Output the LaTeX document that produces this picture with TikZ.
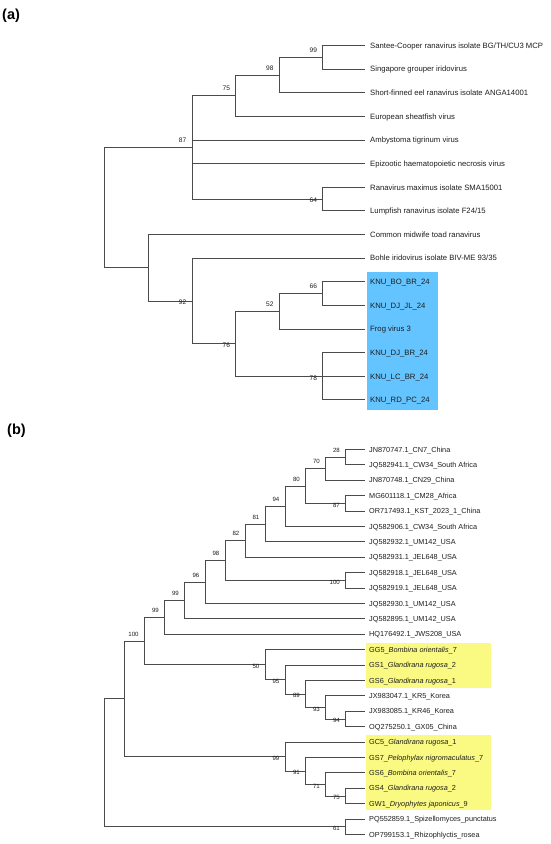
\documentclass[tikz,border=0pt]{standalone}
\usepackage{fontspec}
\setmainfont{Liberation Sans}
\usetikzlibrary{calc}
\definecolor{hlblue}{RGB}{100,196,255}
\definecolor{hlyellow}{RGB}{250,250,130}
\definecolor{brc}{RGB}{75,75,75}
\definecolor{txc}{RGB}{30,30,30}
\newcommand{\tclade}[4]{%
  \path let \p1=($(#3)!0.5!(#4)$) in coordinate (#1) at (#2pt,\y1);
  \draw[branch] (#3) -- (#3 -| #1) -- (#4 -| #1) -- (#4);
}
\begin{document}
\begin{tikzpicture}[x=1pt,y=-1pt,
  branch/.style={draw=brc, line width=0.95pt, line join=miter},
  leafa/.style={anchor=west, inner xsep=5pt, inner ysep=0pt, text height=5.5pt, text depth=0pt, font=\fontsize{7.7}{8}\selectfont, text=txc},
  leafb/.style={anchor=west, inner xsep=4pt, inner ysep=0pt, text height=5.2pt, text depth=0pt, font=\fontsize{7.3}{8}\selectfont, text=txc},
  bsa/.style={anchor=east, inner sep=0pt, xshift=-5.5pt, yshift=7.3pt, font=\fontsize{6.6}{7}\selectfont, text=txc},
  bsab/.style={bsa, yshift=-8.8pt},
  bsb/.style={anchor=east, inner sep=0pt, xshift=-5.5pt, yshift=7pt, font=\fontsize{6.1}{7}\selectfont, text=txc},
  bsbb/.style={bsb, yshift=-8.5pt},
  panel/.style={anchor=west, inner sep=0pt, font=\bfseries\fontsize{14.5}{16}\selectfont, text=black}
]
\useasboundingbox (0,0) rectangle (550,844);
\fill[white] (0,0) rectangle (550,844);

% panel labels
\node[panel] (pa) at (2,16) {(a)};
\node[panel] (pb) at (7,431) {(b)};

% highlights
\fill[hlblue] (366.5,271.8) rectangle (438.4,409.5);
\fill[hlyellow] (365.5,642.7) rectangle (490.5,688);
\fill[hlyellow] (365.5,735.1) rectangle (490.5,810.2);

% ---------- tree (a) leaves ----------
\node[leafa] (A1) at (365,45.5) {Santee-Cooper ranavirus isolate BG/TH/CU3 MCP};
\node[leafa] (A2) at (365,69.13) {Singapore grouper iridovirus};
\node[leafa] (A3) at (365,92.76) {Short-finned eel ranavirus isolate ANGA14001};
\node[leafa] (A4) at (365,116.39) {European sheatfish virus};
\node[leafa] (A5) at (365,140.02) {Ambystoma tigrinum virus};
\node[leafa] (A6) at (365,163.65) {Epizootic haematopoietic necrosis virus};
\node[leafa] (A7) at (365,187.28) {Ranavirus maximus isolate SMA15001};
\node[leafa] (A8) at (365,210.91) {Lumpfish ranavirus isolate F24/15};
\node[leafa] (A9) at (365,234.54) {Common midwife toad ranavirus};
\node[leafa] (A10) at (365,258.17) {Bohle iridovirus isolate BIV-ME 93/35};
\node[leafa] (A11) at (365,281.8) {KNU\_BO\_BR\_24};
\node[leafa] (A12) at (365,305.43) {KNU\_DJ\_JL\_24};
\node[leafa] (A13) at (365,329.06) {Frog virus 3};
\node[leafa] (A14) at (365,352.69) {KNU\_DJ\_BR\_24};
\node[leafa] (A15) at (365,376.32) {KNU\_LC\_BR\_24};
\node[leafa] (A16) at (365,399.95) {KNU\_RD\_PC\_24};

% ---------- tree (a) branches ----------
\tclade{aN99}{322.7}{A1.west}{A2.west}
\tclade{aN98}{279.2}{aN99}{A3.west}
\tclade{aN75}{235.7}{aN98}{A4.west}
\tclade{aN64}{322.7}{A7.west}{A8.west}
\tclade{aN87}{192}{aN75}{aN64}
\draw[branch] (A5.west -| aN87) -- (A5.west);
\draw[branch] (A6.west -| aN87) -- (A6.west);
\tclade{aN66}{322.7}{A11.west}{A12.west}
\tclade{aN52}{279.2}{aN66}{A13.west}
\tclade{aN78}{322.7}{A14.west}{A16.west}
\draw[branch] (A15.west -| aN78) -- (A15.west);
\tclade{aN76}{235.7}{aN52}{aN78}
\tclade{aN92}{192}{A10.west}{aN76}
\tclade{aNlow}{148.5}{A9.west}{aN92}
\tclade{aRoot}{104}{aN87}{aNlow}

% ---------- tree (a) support values ----------
\node[bsa] (la99) at (aN99) {99};
\node[bsa] (la98) at (aN98) {98};
\node[bsa] (la75) at (aN75) {75};
\node[bsa] (la87) at (aN87) {87};
\node[bsab] (la64) at (aN64) {64};
\node[bsa] (la66) at (aN66) {66};
\node[bsa] (la52) at (aN52) {52};
\node[bsab] (la92) at (aN92) {92};
\node[bsab] (la76) at (aN76) {76};
\node[bsab] (la78) at (aN78) {78};

% ---------- tree (b) leaves ----------
\node[leafb] (B1) at (365,449.5) {JN870747.1\_CN7\_China};
\node[leafb] (B2) at (365,464.9) {JQ582941.1\_CW34\_South Africa};
\node[leafb] (B3) at (365,480.3) {JN870748.1\_CN29\_China};
\node[leafb] (B4) at (365,495.7) {MG601118.1\_CM28\_Africa};
\node[leafb] (B5) at (365,511.1) {OR717493.1\_KST\_2023\_1\_China};
\node[leafb] (B6) at (365,526.5) {JQ582906.1\_CW34\_South Africa};
\node[leafb] (B7) at (365,541.9) {JQ582932.1\_UM142\_USA};
\node[leafb] (B8) at (365,557.3) {JQ582931.1\_JEL648\_USA};
\node[leafb] (B9) at (365,572.7) {JQ582918.1\_JEL648\_USA};
\node[leafb] (B10) at (365,588.1) {JQ582919.1\_JEL648\_USA};
\node[leafb] (B11) at (365,603.5) {JQ582930.1\_UM142\_USA};
\node[leafb] (B12) at (365,618.9) {JQ582895.1\_UM142\_USA};
\node[leafb] (B13) at (365,634.3) {HQ176492.1\_JWS208\_USA};
\node[leafb] (B14) at (365,649.7) {GG5\_\textit{Bombina orientalis}\_7};
\node[leafb] (B15) at (365,665.1) {GS1\_\textit{Glandirana rugosa}\_2};
\node[leafb] (B16) at (365,680.5) {GS6\_\textit{Glandirana rugosa}\_1};
\node[leafb] (B17) at (365,695.9) {JX983047.1\_KR5\_Korea};
\node[leafb] (B18) at (365,711.3) {JX983085.1\_KR46\_Korea};
\node[leafb] (B19) at (365,726.7) {OQ275250.1\_GX05\_China};
\node[leafb] (B20) at (365,742.1) {GC5\_\textit{Glandirana rugosa}\_1};
\node[leafb] (B21) at (365,757.5) {GS7\_\textit{Pelophylax nigromaculatus}\_7};
\node[leafb] (B22) at (365,772.9) {GS6\_\textit{Bombina orientalis}\_7};
\node[leafb] (B23) at (365,788.3) {GS4\_\textit{Glandirana rugosa}\_2};
\node[leafb] (B24) at (365,803.7) {GW1\_\textit{Dryophytes japonicus}\_9};
\node[leafb] (B25) at (365,819.1) {PQ552859.1\_Spizellomyces\_punctatus};
\node[leafb] (B26) at (365,834.5) {OP799153.1\_Rhizophlyctis\_rosea};

% ---------- tree (b) branches ----------
\tclade{bN28}{345.5}{B1.west}{B2.west}
\tclade{bN70}{325.5}{bN28}{B3.west}
\tclade{bN87}{345.5}{B4.west}{B5.west}
\tclade{bN80}{305.5}{bN70}{bN87}
\tclade{bN94}{285}{bN80}{B6.west}
\tclade{bN81}{265}{bN94}{B7.west}
\tclade{bN82}{245}{bN81}{B8.west}
\tclade{bN100a}{345.5}{B9.west}{B10.west}
\tclade{bN98}{225}{bN82}{bN100a}
\tclade{bN96}{205}{bN98}{B11.west}
\tclade{bN99a}{184.5}{bN96}{B12.west}
\tclade{bN99b}{164.5}{bN99a}{B13.west}
\tclade{bN94k}{345.5}{B18.west}{B19.west}
\tclade{bN93}{325.5}{B17.west}{bN94k}
\tclade{bN89}{305.5}{B16.west}{bN93}
\tclade{bN95}{285}{B15.west}{bN89}
\tclade{bN50}{265}{B14.west}{bN95}
\tclade{bN100}{144.3}{bN99b}{bN50}
\tclade{bN75}{345.5}{B23.west}{B24.west}
\tclade{bN71}{325.5}{B22.west}{bN75}
\tclade{bN91}{305.5}{B21.west}{bN71}
\tclade{bN99c}{285}{B20.west}{bN91}
\tclade{bNbig}{124.3}{bN100}{bN99c}
\tclade{bN61}{345.5}{B25.west}{B26.west}
\tclade{bRoot}{104}{bNbig}{bN61}

% ---------- tree (b) support values ----------
\node[bsb] (lb28) at (bN28) {28};
\node[bsb] (lb70) at (bN70) {70};
\node[bsbb] (lb87) at (bN87) {87};
\node[bsb] (lb80) at (bN80) {80};
\node[bsb] (lb94) at (bN94) {94};
\node[bsb] (lb81) at (bN81) {81};
\node[bsb] (lb82) at (bN82) {82};
\node[bsbb] (lb100a) at (bN100a) {100};
\node[bsb] (lb98) at (bN98) {98};
\node[bsb] (lb96) at (bN96) {96};
\node[bsb] (lb99a) at (bN99a) {99};
\node[bsb] (lb99b) at (bN99b) {99};
\node[bsbb] (lb94k) at (bN94k) {94};
\node[bsbb] (lb93) at (bN93) {93};
\node[bsbb] (lb89) at (bN89) {89};
\node[bsbb] (lb95) at (bN95) {95};
\node[bsbb] (lb50) at (bN50) {50};
\node[bsb] (lb100) at (bN100) {100};
\node[bsbb] (lb75) at (bN75) {75};
\node[bsbb] (lb71) at (bN71) {71};
\node[bsbb] (lb91) at (bN91) {91};
\node[bsbb] (lb99c) at (bN99c) {99};
\node[bsbb] (lb61) at (bN61) {61};
\end{tikzpicture}
\end{document}
